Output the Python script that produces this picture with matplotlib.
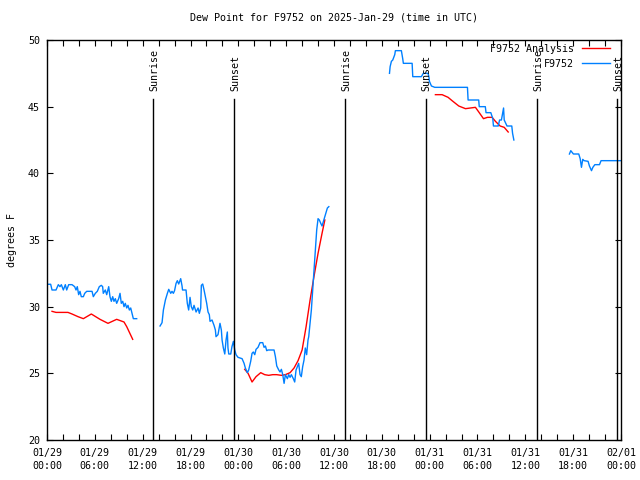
import numpy as np
import matplotlib
matplotlib.use("Agg")
import matplotlib.pyplot as plt

nan = np.nan

# Hours since 2025-01-29 00:00 UTC
obs_hours = [
    0.04, 0.46, 0.63, 1.13, 1.42, 1.63, 1.8, 2.05, 2.3, 2.47, 2.72, 3.14, 3.47, 3.64, 3.8, 3.97,
    4.14, 4.3, 4.56, 4.73, 4.98, 5.65, 5.81, 6.06, 6.31, 6.56, 6.81, 6.98, 7.06, 7.31, 7.49, 7.74,
    7.9, 8.07, 8.24, 8.4, 8.57, 8.74, 8.99, 9.16, 9.32, 9.5, 9.66, 9.82, 10.0, 10.16, 10.33, 10.5,
    10.83, 11.25, 12.5,
    14.18, 14.43, 14.6, 14.85, 15.1, 15.27, 15.52, 15.68, 15.85, 16.0, 16.19, 16.35, 16.52, 16.77,
    16.94, 17.0, 17.44, 17.6, 17.77, 17.94, 18.1, 18.28, 18.44, 18.7, 18.95, 19.11, 19.28, 19.36,
    19.53, 19.7, 19.86, 20.03, 20.2, 20.36, 20.45, 20.7, 20.95, 21.12, 21.2, 21.45, 21.7, 21.87,
    21.96, 22.12, 22.3, 22.46, 22.62, 22.7, 22.8, 23.05, 23.2, 23.38, 23.55, 23.71, 23.96, 24.47,
    24.72, 24.88, 25.13, 25.3, 25.55, 25.72, 25.88, 26.06, 26.22, 26.47, 26.72, 27.06, 27.23, 27.4,
    27.56, 27.73, 28.48, 28.65, 28.82, 29.07, 29.23, 29.4, 29.57, 29.74, 29.9, 30.15, 30.32, 30.49,
    30.65, 30.9, 31.07, 31.24, 31.4, 31.57, 31.74, 31.9, 32.07, 32.24, 32.4, 32.57, 32.74, 32.83,
    33.0, 33.16, 33.33, 33.5, 33.66, 33.83, 34.0, 34.16, 34.34, 34.5, 34.67, 34.84, 35.0, 35.17,
    35.35, 38.0,
    42.96, 43.04, 43.2, 43.37, 43.62, 43.7, 44.45, 44.62, 44.7, 45.8, 45.88, 46.96, 47.2, 47.8,
    47.9, 47.97, 48.22, 48.64, 52.74, 52.82, 54.15, 54.22, 54.98, 55.07, 55.67, 55.92, 56.0, 56.6,
    56.77, 57.0, 57.27, 57.35, 57.7, 58.3, 58.4, 58.56, 62.0,
    65.53, 65.7, 66.03, 66.7, 66.88, 67.04, 67.2, 67.37, 67.87, 68.04, 68.3, 68.47, 68.72, 69.3,
    69.5, 71.95,
]
obs_dewpoint = [
    31.68, 31.68, 31.25, 31.25, 31.65, 31.5, 31.65, 31.25, 31.65, 31.25, 31.65, 31.65, 31.5, 31.25, 31.5, 30.9,
    31.15, 30.75, 30.75, 31.0, 31.15, 31.15, 30.75, 31.0, 31.15, 31.5, 31.6, 31.5, 31.0, 31.25, 30.9, 31.5,
    30.75, 30.4, 30.75, 30.4, 30.6, 30.25, 30.6, 31.0, 30.25, 30.4, 30.0, 30.25, 29.9, 30.1, 29.75, 29.9,
    29.1, 29.1, nan,
    28.55, 28.8, 29.75, 30.5, 31.0, 31.3, 31.0, 31.15, 31.0, 31.2, 31.75, 31.95, 31.7, 32.1,
    31.55, 31.25, 31.25, 30.25, 29.75, 30.7, 30.0, 29.75, 30.1, 29.6, 29.9, 29.5, 29.9, 31.6,
    31.7, 31.25, 30.75, 30.25, 29.6, 29.4, 28.9, 29.0, 28.6, 28.25, 27.75, 27.9, 28.75, 28.25,
    27.5, 26.9, 26.45, 27.5, 28.1, 26.9, 26.45, 26.45, 27.0, 27.4, 26.75, 26.4, 26.2, 26.1,
    25.75, 25.4, 25.05, 25.25, 25.9, 26.5, 26.6, 26.4, 26.8, 26.95, 27.3, 27.3, 26.95, 27.05,
    26.7, 26.75, 26.75, 26.25, 25.55, 25.25, 25.1, 25.3, 24.9, 24.25, 24.9, 24.6, 24.9, 24.7,
    24.9, 24.6, 24.35, 25.25, 25.5, 25.75, 24.9, 24.75, 25.5, 26.0, 26.9, 26.4, 27.5, 27.75,
    28.75, 29.75, 31.25, 32.75, 34.25, 35.75, 36.6, 36.5, 36.25, 36.05, 36.4, 36.75, 37.1, 37.4,
    37.5, nan,
    47.5, 48.0, 48.4, 48.5, 48.9, 49.2, 49.2, 48.6, 48.25, 48.25, 47.25, 47.25, 47.5, 47.5,
    47.25, 46.9, 46.55, 46.45, 46.45, 45.5, 45.5, 45.0, 45.0, 44.55, 44.55, 44.1, 43.55, 43.55,
    44.0, 44.0, 44.9, 44.0, 43.55, 43.55, 43.0, 42.5, nan,
    41.45, 41.7, 41.45, 41.45, 41.1, 40.45, 41.05, 40.95, 40.9, 40.55, 40.2, 40.45, 40.65, 40.65,
    40.95, 40.95,
]

ana_hours = [
    0.63, 1.13, 2.63, 3.14, 3.89, 4.56, 5.56, 6.65, 7.65, 8.74, 9.66, 10.0, 10.75, 12.5,
    24.8, 25.22, 25.72, 26.22, 26.81, 27.31, 27.81, 28.31, 28.81, 29.4, 29.9, 30.49, 30.99, 31.49,
    32.0, 32.5, 33.0, 33.5, 34.0, 34.5, 34.85, 38.0,
    48.72, 49.56, 50.31, 50.81, 51.65, 52.49, 53.74, 54.16, 54.75, 55.25, 55.83, 56.25, 56.84,
    57.35, 57.85,
]
ana_dewpoint = [
    29.65, 29.57, 29.57, 29.45, 29.25, 29.1, 29.45, 29.05, 28.75, 29.05, 28.85, 28.5, 27.55, nan,
    25.3, 25.0, 24.35, 24.75, 25.05, 24.9, 24.85, 24.9, 24.9, 24.85, 24.9, 25.05, 25.4, 25.95,
    26.75, 28.5, 30.5, 32.3, 34.0, 35.5, 36.5, nan,
    45.9, 45.9, 45.7, 45.45, 45.05, 44.85, 44.95, 44.6, 44.1, 44.2, 44.2, 43.9, 43.55,
    43.45, 43.1,
]

sun_hours = [13.33, 23.46, 37.38, 47.48, 61.45, 71.46]
sun_labels = ["Sunrise", "Sunset", "Sunrise", "Sunset", "Sunrise", "Sunset"]

tick_hours = [0, 6, 12, 18, 24, 30, 36, 42, 48, 54, 60, 66, 72]
tick_labels = ["01/29\n00:00", "01/29\n06:00", "01/29\n12:00", "01/29\n18:00",
               "01/30\n00:00", "01/30\n06:00", "01/30\n12:00", "01/30\n18:00",
               "01/31\n00:00", "01/31\n06:00", "01/31\n12:00", "01/31\n18:00",
               "02/01\n00:00"]
y_ticks = [20, 25, 30, 35, 40, 45, 50]

FONT = "DejaVu Sans Mono"
FS = 7.2
plt.rcParams["font.family"] = FONT
plt.rcParams["font.size"] = FS

fig = plt.figure(figsize=(6.4, 4.8), dpi=100)
ax = fig.add_axes([47 / 640, 40 / 480, (621 - 47) / 640, (440 - 40) / 480])

ax.plot(ana_hours, ana_dewpoint, color="#ff0000", lw=1.0, label="F9752 Analysis")
ax.plot(obs_hours, obs_dewpoint, color="#0080ff", lw=1.0, label="F9752")

for h, lab in zip(sun_hours, sun_labels):
    ax.plot([h, h], [20, 45.6], color="black", lw=1.0)
    ax.text(h + 0.15, 46.2, lab, rotation=90, ha="center", va="bottom", fontsize=FS)

ax.set_xlim(0, 72)
ax.set_ylim(20, 50)
ax.set_xticks(tick_hours)
ax.set_xticklabels(tick_labels, linespacing=1.45)
ax.set_xticks(np.arange(0, 73, 2), minor=True)
ax.set_yticks(y_ticks)
ax.tick_params(axis="both", which="both", direction="in", top=True, right=True,
               length=4, width=0.8)
ax.tick_params(axis="x", which="major", pad=5.5)
ax.tick_params(axis="y", which="major", pad=5)
ax.tick_params(axis="x", which="minor", length=4)
for sp in ax.spines.values():
    sp.set_linewidth(1.0)

ax.set_ylabel("degrees F", labelpad=8)
ax.set_title("Dew Point for F9752 on 2025-Jan-29 (time in UTC)", pad=14, fontsize=FS)

leg = ax.legend(loc="upper right", frameon=False, markerfirst=False,
                handlelength=2.8, handletextpad=0.8, labelspacing=0.5,
                borderaxespad=0.3, fontsize=FS,
                bbox_to_anchor=(1 - 4.5 / 574, 1 + 3 / 400))

fig.savefig("out.png", dpi=100)
